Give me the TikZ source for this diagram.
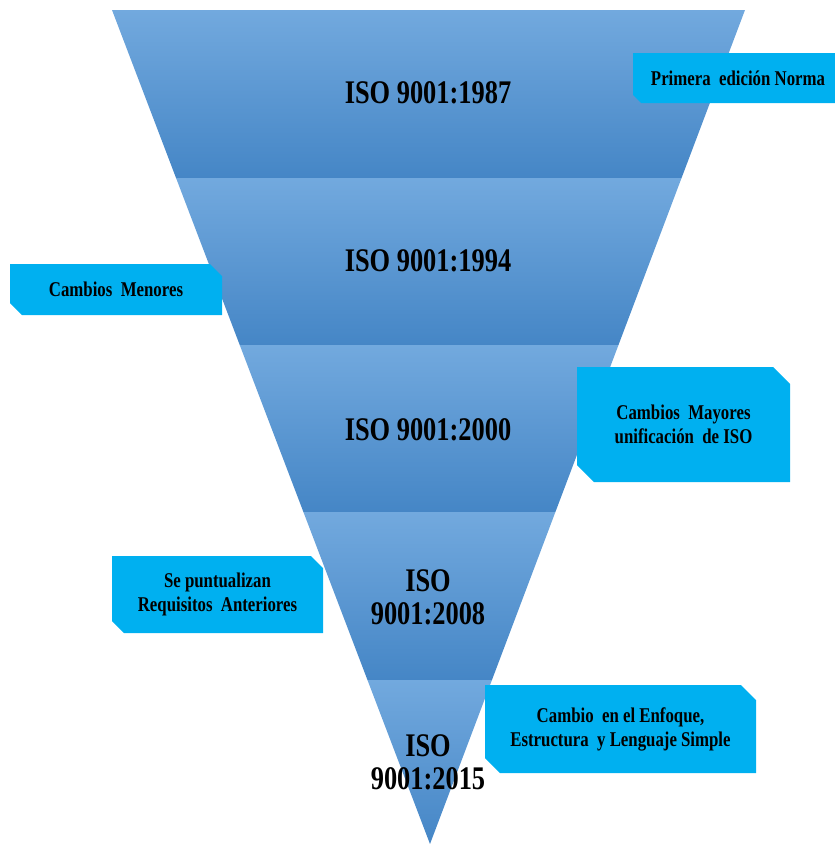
\documentclass[tikz,border=0pt]{standalone}
\usepackage{fontspec}
\setmainfont[FakeStretch=0.8]{Liberation Serif}
\usepackage{xcolor}
\usepackage{tikz}
\usetikzlibrary{shapes.misc}

\definecolor{bandtop}{HTML}{72A9DE}
\definecolor{bandmid}{HTML}{5A9BD8}
\definecolor{bandbot}{HTML}{4586C6}
\definecolor{notecyan}{HTML}{00B0F0}

\tikzset{
  band/.style={top color=bandtop,middle color=bandmid,bottom color=bandbot},
  version/.style={font=\bfseries\fontsize{33}{33}\selectfont,align=center},
  note/.style={chamfered rectangle,chamfered rectangle corners={north east,south west},
    chamfered rectangle xsep=6pt,chamfered rectangle ysep=6pt,fill=notecyan,
    inner sep=0pt,font=\bfseries\fontsize{21}{24}\selectfont,align=center},
}

\begin{document}
\begin{tikzpicture}[x=1pt,y=-1pt]
\useasboundingbox (0,0) rectangle (835,844);
% bands of the funnel
\foreach \yt/\yb in {10/178,178/345,345/512,512/680,680/844} {
    \shade[band] ({112+0.3813*(\yt-10)},\yt) -- ({745-0.3777*(\yt-10)},\yt)
      -- ({745-0.3777*(\yb-10)},\yb) -- ({112+0.3813*(\yb-10)},\yb) -- cycle;
}

\node[version] (v87) at (428,93) {ISO 9001:1987};
\node[version] (v94) at (428,261) {ISO 9001:1994};
\node[version] (v00) at (428,430) {ISO 9001:2000};
\node[version] (v08) at (428,597) {ISO\\9001:2008};
\node[version] (v15) at (428,762) {ISO\\9001:2015};

% notes
\node[note,minimum width=210pt,minimum height=50pt,chamfered rectangle xsep=4pt,chamfered rectangle ysep=4pt] (n87) at (738,78) {Primera\ \ edición Norma};
\node[note,minimum width=212pt,minimum height=51pt] (n94) at (116,289.5) {Cambios\ \ Menores};
\node[note,minimum width=213pt,minimum height=115pt,chamfered rectangle xsep=8pt,chamfered rectangle ysep=9pt] (n00) at (683.5,424.5) {Cambios\ \ Mayores\\unificación\ \ de ISO};
\node[note,minimum width=211pt,minimum height=77pt] (n08) at (217.5,594.5) {Se puntualizan\\Requisitos\ \ Anteriores};
\node[note,minimum width=271pt,minimum height=88pt,chamfered rectangle xsep=7pt,chamfered rectangle ysep=8pt] (n15) at (620.5,729) {Cambio\ \ en el Enfoque,\\Estructura\ \ y Lenguaje Simple};
\end{tikzpicture}
\end{document}
